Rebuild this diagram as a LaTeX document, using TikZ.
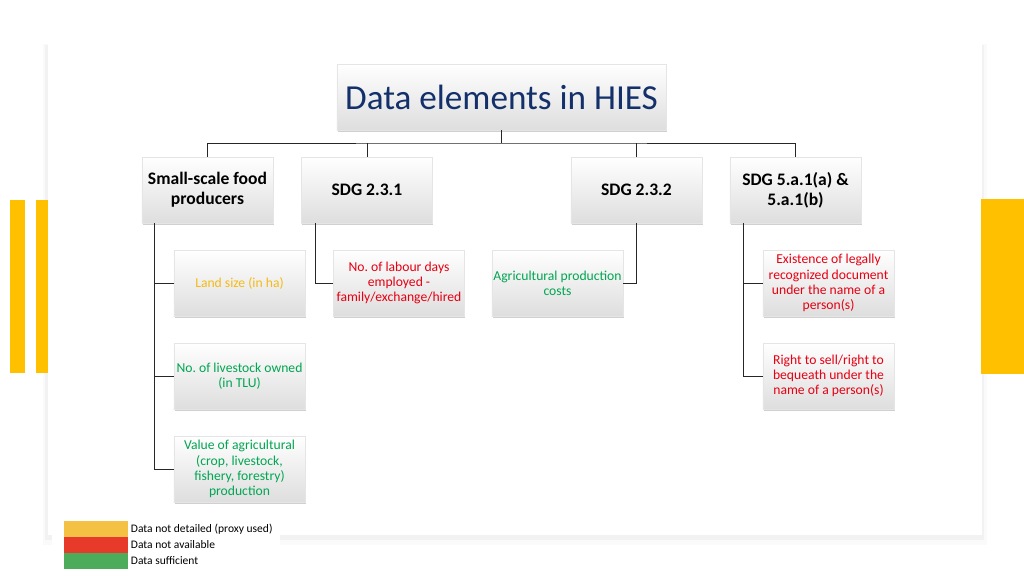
\documentclass[tikz,border=0pt]{standalone}
\usepackage{fontspec}
\setmainfont{Carlito}
\usetikzlibrary{shadows}
\frenchspacing
\definecolor{hiesnavy}{HTML}{13306B}
\definecolor{hiesgold}{HTML}{FFC000}
\definecolor{proxytext}{HTML}{F5BA14}
\definecolor{natext}{HTML}{E60012}
\definecolor{oktext}{HTML}{00A651}
\definecolor{proxykey}{HTML}{F4C145}
\definecolor{nakey}{HTML}{E83A2A}
\definecolor{okkey}{HTML}{4DAC5C}
\begin{document}
\begin{tikzpicture}[x=0.025cm, y=-0.025cm,
          card/.style={top color=white, bottom color=black!13, draw=black!10, line width=0.3pt,
            drop shadow={shadow xshift=0.6pt, shadow yshift=-1.2pt, opacity=0.3, fill=black!60}},
          title box/.style={card, minimum width=8.225cm, minimum height=1.65cm, inner sep=0pt,
            text=hiesnavy, font=\fontsize{25}{28}\selectfont},
          head box/.style={card, minimum width=3.275cm, minimum height=1.65cm, inner sep=0pt,
            align=center, font=\bfseries\fontsize{12.5}{14}\selectfont},
          item box/.style={card, minimum width=3.275cm, minimum height=1.65cm, inner sep=0pt,
            align=center, font=\fontsize{9.7}{10.8}\selectfont},
          key/.style={minimum width=1.6cm, minimum height=0.4cm, inner sep=0pt},
          link/.style={line width=0.65pt, draw=black!85}]
          \useasboundingbox (0,0) rectangle (1024,575);
          % slide card and side bars
          \fill[black!2] (43,44) rectangle (987,545);
          \fill[black!5] (45,45) rectangle (984,540);
          \fill[white] (48,44) rectangle (982,535);
          \fill[hiesgold] (10,200) rectangle (25,373);
          \fill[hiesgold] (36,200) rectangle (48,373);
          \fill[hiesgold] (981,199) rectangle (1024,374);
          % top levels
          \node[title box] (title) at (501.5,97) {Data elements in HIES};
          \node[head box] (ssfp) at (207.5,190) {Small-scale food\\producers};
          \node[head box] (sdg231) at (367,190) {SDG 2.3.1};
          \node[head box] (sdg232) at (636.5,190) {SDG 2.3.2};
          \node[head box] (sdg5a1) at (795.5,190) {SDG 5.a.1(a) \&\\5.a.1(b)};
          % data elements
          \node[item box, text=proxytext] (land) at (239.5,283) {Land size (in ha)};
          \node[item box, text=oktext] (stock) at (239.5,376) {No. of livestock owned\\(in TLU)};
          \node[item box, text=oktext] (value) at (239.5,469) {Value of agricultural\\(crop, livestock,\\fishery, forestry)\\production};
          \node[item box, text=natext] (labour) at (399,283) {No. of labour days\\employed -\\family/exchange/hired};
          \node[item box, text=oktext] (costs) at (557.5,283) {Agricultural production\\costs};
          \node[item box, text=natext] (docs) at (828.5,283) {Existence of legally\\recognized document\\under the name of a\\person(s)};
          \node[item box, text=natext] (sell) at (828.5,376) {Right to sell/right to\\bequeath under the\\name of a person(s)};
          % connectors
          \coordinate (bus) at (501.5,143);
          \draw[link] (title.south) -- (bus);
          \draw[link] (ssfp.north) |- (bus) -| (sdg5a1.north);
          \draw[link] (sdg231.north) -- (sdg231.north |- bus);
          \draw[link] (sdg232.north) -- (sdg232.north |- bus);
          \foreach \k in {land,stock,value}{
              \draw[link] (ssfp.south west) ++(13,0) |- (\k.west);
          }
          \draw[link] (sdg231.south west) ++(14,0) |- (labour.west);
          \draw[link] (sdg232.south) |- (costs.east);
          \foreach \k in {docs,sell}{
              \draw[link] (sdg5a1.south west) ++(14,0) |- (\k.west);
          }
          % legend
          \fill[white] (52,512) rectangle (280,575);
          \foreach \c/\t [count=\i] in {proxykey/Data not detailed (proxy used), nakey/Data not available, okkey/Data sufficient}{
              \node[key, fill=\c] (key\i) at (96.3,{528.7+16*(\i-1)}) {};
              \node[anchor=west, inner xsep=1.5pt, font=\fontsize{8.2}{9}\selectfont] (keytext\i) at (key\i.east) {\t};
          }
\end{tikzpicture}
\end{document}
